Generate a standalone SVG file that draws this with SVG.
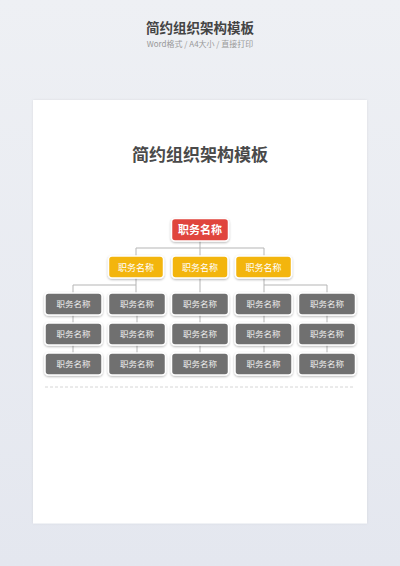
<svg xmlns="http://www.w3.org/2000/svg" width="400" height="566" viewBox="0 0 400 566">
<defs>
<linearGradient id="bg" x1="0" y1="0" x2="0" y2="1">
<stop offset="0" stop-color="#eef0f4"/>
<stop offset="1" stop-color="#e4e7ef"/>
</linearGradient>
<filter id="sh" x="-20%" y="-30%" width="140%" height="170%">
<feDropShadow dx="0" dy="1" stdDeviation="1" flood-color="#000" flood-opacity="0.3"/>
</filter>
<filter id="psh" x="-5%" y="-5%" width="110%" height="110%">
<feDropShadow dx="0" dy="0" stdDeviation="1" flood-color="#000" flood-opacity="0.08"/>
</filter>
</defs>
<style>
text{font-family:"Noto Sans CJK SC","Noto Sans",sans-serif;text-anchor:middle}
.red rect{fill:#e0443c;stroke:#fff;stroke-width:1.5;filter:url(#sh)}
.yel rect{fill:#f3b50d;stroke:#fff;stroke-width:1.5;filter:url(#sh)}
.gry rect{fill:#707070;stroke:#fff;stroke-width:1.5;filter:url(#sh)}
.red text{fill:#fff;font-size:11px;font-weight:bold}
.yel text{fill:#fff;font-size:9px}
.gry text{fill:#eee;font-size:8.5px}
#connectors path{fill:none;stroke:#b5b5b5;stroke-width:1}
</style>
<rect width="400" height="566" fill="url(#bg)"/>
<text x="200" y="33" font-size="13.5" font-weight="bold" fill="#444">简约组织架构模板</text>
<text x="200" y="46.5" font-size="8" fill="#999">Word格式 / A4大小 / 直接打印</text>
<rect x="33" y="100" width="334" height="423.5" fill="#fff" filter="url(#psh)"/>
<text x="200" y="161" font-size="17" font-weight="bold" fill="#4a4a4a">简约组织架构模板</text>
<g id="connectors">
<path d="M200 241V256M136 248H264M136 248V256M264 248V256"/>
<path d="M136 278V293M73 285H136M73 285V293"/>
<path d="M200 278V293"/>
<path d="M264 278V293M264 285H327V293"/>
<path d="M73 315V323M137 315V323M200 315V323M264 315V323M327 315V323"/>
<path d="M73 345V353M137 345V353M200 345V353M264 345V353M327 345V353"/>
</g>
<g id="n-top" class="red"><rect x="171.5" y="218.5" width="57" height="22.5" rx="3.5"/><text x="200" y="233.5">职务名称</text></g>
<g id="n-y1" class="yel"><rect x="108.5" y="256" width="55" height="22" rx="3.5"/><text x="136" y="270.5">职务名称</text></g>
<g id="n-y2" class="yel"><rect x="172" y="256" width="56" height="22" rx="3.5"/><text x="200" y="270.5">职务名称</text></g>
<g id="n-y3" class="yel"><rect x="235.5" y="256" width="56" height="22" rx="3.5"/><text x="263.5" y="270.5">职务名称</text></g>
<g id="n-g11" class="gry"><rect x="45" y="293" width="57" height="22" rx="3.5"/><text x="73.5" y="307">职务名称</text></g>
<g id="n-g12" class="gry"><rect x="108.5" y="293" width="57" height="22" rx="3.5"/><text x="137" y="307">职务名称</text></g>
<g id="n-g13" class="gry"><rect x="171.5" y="293" width="57" height="22" rx="3.5"/><text x="200" y="307">职务名称</text></g>
<g id="n-g14" class="gry"><rect x="235" y="293" width="57" height="22" rx="3.5"/><text x="263.5" y="307">职务名称</text></g>
<g id="n-g15" class="gry"><rect x="298.5" y="293" width="57" height="22" rx="3.5"/><text x="327" y="307">职务名称</text></g>
<g id="n-g21" class="gry"><rect x="45" y="323" width="57" height="22" rx="3.5"/><text x="73.5" y="337">职务名称</text></g>
<g id="n-g22" class="gry"><rect x="108.5" y="323" width="57" height="22" rx="3.5"/><text x="137" y="337">职务名称</text></g>
<g id="n-g23" class="gry"><rect x="171.5" y="323" width="57" height="22" rx="3.5"/><text x="200" y="337">职务名称</text></g>
<g id="n-g24" class="gry"><rect x="235" y="323" width="57" height="22" rx="3.5"/><text x="263.5" y="337">职务名称</text></g>
<g id="n-g25" class="gry"><rect x="298.5" y="323" width="57" height="22" rx="3.5"/><text x="327" y="337">职务名称</text></g>
<g id="n-g31" class="gry"><rect x="45" y="353" width="57" height="22" rx="3.5"/><text x="73.5" y="367">职务名称</text></g>
<g id="n-g32" class="gry"><rect x="108.5" y="353" width="57" height="22" rx="3.5"/><text x="137" y="367">职务名称</text></g>
<g id="n-g33" class="gry"><rect x="171.5" y="353" width="57" height="22" rx="3.5"/><text x="200" y="367">职务名称</text></g>
<g id="n-g34" class="gry"><rect x="235" y="353" width="57" height="22" rx="3.5"/><text x="263.5" y="367">职务名称</text></g>
<g id="n-g35" class="gry"><rect x="298.5" y="353" width="57" height="22" rx="3.5"/><text x="327" y="367">职务名称</text></g>
<line x1="45" y1="387" x2="355" y2="387" stroke="#ccc" stroke-width="0.8" stroke-dasharray="3 2"/>
</svg>
